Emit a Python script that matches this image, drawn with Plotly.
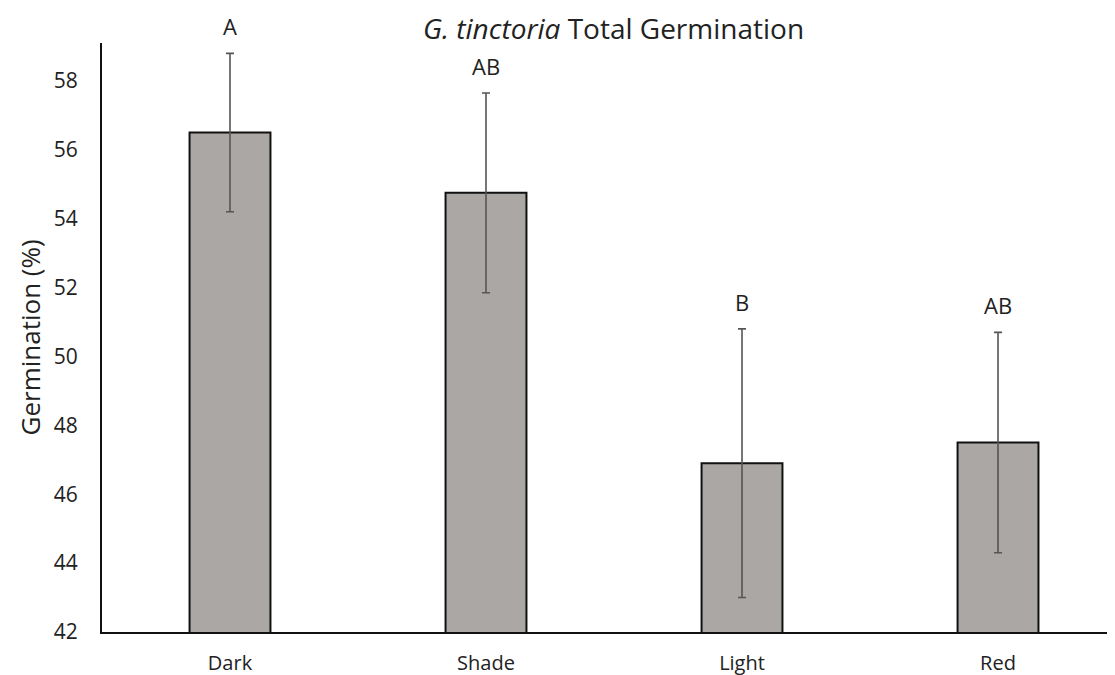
import plotly.graph_objects as go

# data
treatments = ['Dark', 'Shade', 'Light', 'Red']
germination = [56.5, 54.75, 46.9, 47.5]
std_err = [2.3, 2.9, 3.9, 3.2]
letters = ['A', 'AB', 'B', 'AB']

FONT = 'Open Sans'
BAR_COLOR = '#aba7a5'
TEXT = '#222222'

fig = go.Figure()
fig.add_trace(go.Bar(
    x=treatments,
    y=germination,
    base=0,
    width=0.316,
    marker=dict(color=BAR_COLOR, line=dict(color='#111111', width=2)),
    error_y=dict(type='data', array=std_err, visible=True,
                 color='#555555', thickness=1.6, width=4),
))

# significance letters above the error bars
for t, m, e, lab in zip(treatments, germination, std_err, letters):
    fig.add_annotation(x=t, y=m + e, text=lab, showarrow=False,
                       yanchor='bottom', yshift=10,
                       font=dict(family=FONT, size=22, color=TEXT))

# y axis title as an annotation so it sits where the original has it
fig.add_annotation(text='Germination (%)', xref='paper', yref='paper',
                   x=0, y=0.5, xshift=-73, textangle=-90, showarrow=False,
                   xanchor='center', yanchor='middle',
                   font=dict(family=FONT, size=26, color=TEXT))

# page body has an 8px margin, so the figure is 8px smaller than the window
fig.update_layout(
    width=1107, height=667,
    margin=dict(l=94, r=0, t=35, b=43),
    paper_bgcolor='white', plot_bgcolor='white',
    showlegend=False,
    font=dict(family=FONT, color=TEXT),
    title=dict(text='<i>G. tinctoria</i> Total Germination',
               x=0.547, xanchor='center', y=0.968, yanchor='middle',
               font=dict(family=FONT, size=28, color=TEXT)),
)
fig.update_xaxes(
    range=[-0.5, 3.457], showline=True, linecolor='#111111', linewidth=2,
    showgrid=False, ticks='', automargin=False, ticklabelstandoff=12,
    tickfont=dict(size=20, color=TEXT),
)
fig.update_yaxes(
    range=[42, 59.1], tick0=42, dtick=2, showline=True, linecolor='#111111',
    linewidth=2, showgrid=False, zeroline=False, ticks='', automargin=False,
    ticklabelstandoff=18, tickfont=dict(size=21, color=TEXT),
)

fig.write_html("out.html")
